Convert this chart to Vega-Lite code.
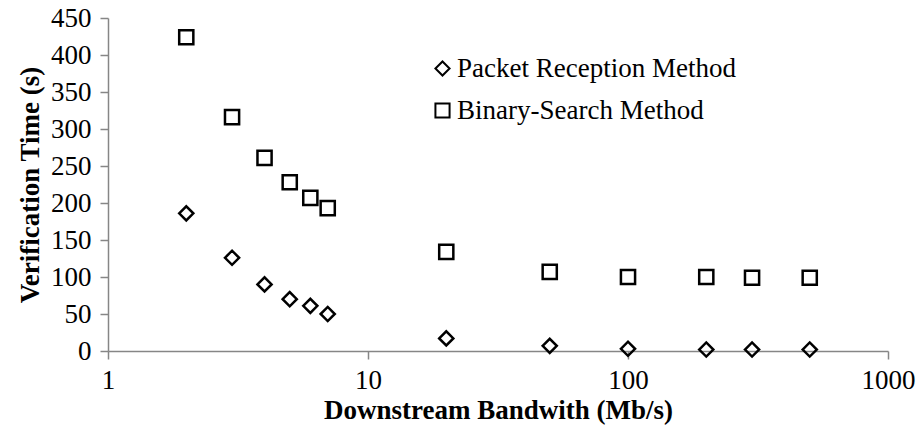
{
  "$schema": "https://vega.github.io/schema/vega-lite/v6.json",
  "autosize": {"type": "none"},
  "padding": {"left": 108, "top": 18, "right": 30, "bottom": 85},
  "width": 780,
  "height": 333,
  "background": "white",
  "config": {
    "view": {"stroke": null},
    "font": "Liberation Serif, Times New Roman, DejaVu Serif, serif"
  },
  "data": {
    "values": [
      {"bw": 2, "t": 186, "method": "Packet Reception Method"},
      {"bw": 3, "t": 126, "method": "Packet Reception Method"},
      {"bw": 4, "t": 90, "method": "Packet Reception Method"},
      {"bw": 5, "t": 70, "method": "Packet Reception Method"},
      {"bw": 6, "t": 61, "method": "Packet Reception Method"},
      {"bw": 7, "t": 50, "method": "Packet Reception Method"},
      {"bw": 20, "t": 17, "method": "Packet Reception Method"},
      {"bw": 50, "t": 7, "method": "Packet Reception Method"},
      {"bw": 100, "t": 3, "method": "Packet Reception Method"},
      {"bw": 200, "t": 2, "method": "Packet Reception Method"},
      {"bw": 300, "t": 2, "method": "Packet Reception Method"},
      {"bw": 500, "t": 2, "method": "Packet Reception Method"},
      {"bw": 2, "t": 424, "method": "Binary-Search Method"},
      {"bw": 3, "t": 316, "method": "Binary-Search Method"},
      {"bw": 4, "t": 261, "method": "Binary-Search Method"},
      {"bw": 5, "t": 228, "method": "Binary-Search Method"},
      {"bw": 6, "t": 207, "method": "Binary-Search Method"},
      {"bw": 7, "t": 193, "method": "Binary-Search Method"},
      {"bw": 20, "t": 134, "method": "Binary-Search Method"},
      {"bw": 50, "t": 107, "method": "Binary-Search Method"},
      {"bw": 100, "t": 100, "method": "Binary-Search Method"},
      {"bw": 200, "t": 100, "method": "Binary-Search Method"},
      {"bw": 300, "t": 99, "method": "Binary-Search Method"},
      {"bw": 500, "t": 99, "method": "Binary-Search Method"}
    ]
  },
  "mark": {"type": "point", "filled": false, "stroke": "black", "strokeWidth": 2.5, "size": 200, "opacity": 1},
  "encoding": {
    "x": {
      "field": "bw", "type": "quantitative",
      "scale": {"type": "log", "domain": [1, 1000], "nice": false},
      "axis": {
        "title": "Downstream Bandwith (Mb/s)",
        "values": [1, 10, 100, 1000],
        "format": "d",
        "grid": false,
        "domainColor": "#868686", "domainWidth": 1.5,
        "tickColor": "#868686", "tickWidth": 1.5, "tickSize": 8,
        "labelFont": "Liberation Serif, Times New Roman, DejaVu Serif, serif", "labelFontSize": 27, "labelColor": "black",
        "labelPadding": 8, "labelFlush": false, "labelOverlap": false,
        "titleFont": "Liberation Serif, Times New Roman, DejaVu Serif, serif", "titleFontSize": 27, "titleFontWeight": "bold", "titleColor": "black",
        "titlePadding": 4
      }
    },
    "y": {
      "field": "t", "type": "quantitative",
      "scale": {"domain": [0, 450], "nice": false},
      "axis": {
        "title": "Verification Time (s)",
        "values": [0, 50, 100, 150, 200, 250, 300, 350, 400, 450],
        "grid": false,
        "domainColor": "#868686", "domainWidth": 1.5,
        "tickColor": "#868686", "tickWidth": 1.5, "tickSize": 8,
        "labelFont": "Liberation Serif, Times New Roman, DejaVu Serif, serif", "labelFontSize": 27, "labelColor": "black",
        "labelPadding": 9, "labelFlush": false, "labelOverlap": false,
        "titleFont": "Liberation Serif, Times New Roman, DejaVu Serif, serif", "titleFontSize": 27, "titleFontWeight": "bold", "titleColor": "black",
        "titlePadding": 6
      }
    },
    "shape": {
      "field": "method", "type": "nominal",
      "scale": {"domain": ["Packet Reception Method", "Binary-Search Method"], "range": ["diamond", "square"]},
      "legend": {
        "title": null,
        "orient": "none",
        "legendX": 321,
        "legendY": 37,
        "padding": 0,
        "symbolSize": 200,
        "symbolStrokeWidth": 2,
        "symbolStrokeColor": "black",
        "symbolFillColor": "white",
        "symbolType": "diamond",
        "labelFont": "Liberation Serif, Times New Roman, DejaVu Serif, serif",
        "labelFontSize": 27,
        "labelColor": "black",
        "labelOffset": 1,
        "rowPadding": 14,
        "labelLimit": 400
      }
    }
  }
}
